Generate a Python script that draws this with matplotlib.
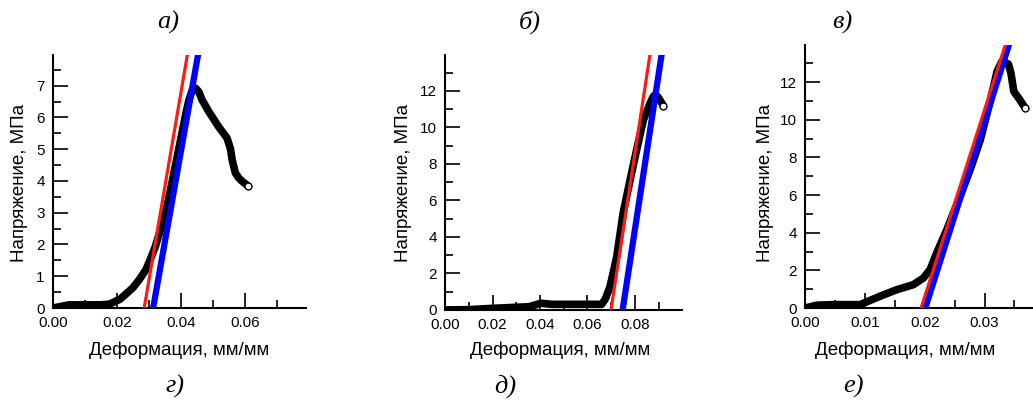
import matplotlib.pyplot as plt
from matplotlib.ticker import MultipleLocator

plt.rcParams['font.family'] = ['Liberation Sans', 'DejaVu Sans']

# panel a
A_STRAIN = [0.0, 0.005, 0.010, 0.015, 0.0176, 0.0210, 0.0249, 0.0270, 0.0290, 0.0305,
            0.0320, 0.0352, 0.0373, 0.0399, 0.0415, 0.0425, 0.0435, 0.0446, 0.0456,
            0.0466, 0.0487, 0.0518, 0.0544, 0.0555, 0.0560, 0.0570, 0.0580, 0.0590, 0.0611]
A_STRESS = [0.0, 0.10, 0.10, 0.10, 0.12, 0.28, 0.63, 0.90, 1.20, 1.55,
            1.94, 3.00, 4.00, 5.30, 6.10, 6.55, 6.85, 6.92, 6.80,
            6.55, 6.18, 5.70, 5.35, 5.00, 4.66, 4.25, 4.10, 4.00, 3.83]
A_RED = ([0.0285, 0.0420], [0.0, 7.97])
A_BLUE = ([0.0313, 0.0453], [0.0, 7.95])

# panel b
B_STRAIN = [0.0, 0.010, 0.020, 0.0354, 0.0404, 0.0450, 0.0550, 0.0660, 0.0675, 0.0695,
            0.0723, 0.0750, 0.0779, 0.0807, 0.0835, 0.0863, 0.0875, 0.0884, 0.0895,
            0.0905, 0.0919]
B_STRESS = [0.0, 0.02, 0.09, 0.18, 0.37, 0.31, 0.31, 0.31, 0.60, 1.28,
            2.90, 5.30, 7.10, 8.77, 10.40, 11.30, 11.65, 11.78, 11.70,
            11.50, 11.20]
B_RED = ([0.0699, 0.0863], [0.0, 13.97])
B_BLUE = ([0.0748, 0.0912], [0.0, 13.97])

# panel c
C_STRAIN = [0.0, 0.002, 0.005, 0.0092, 0.0125, 0.0153, 0.0181, 0.0198, 0.0209, 0.0220,
            0.0237, 0.0259, 0.0276, 0.0293, 0.0310, 0.0321, 0.0329, 0.0334, 0.0340,
            0.0344, 0.0346, 0.0349, 0.0357, 0.0368]
C_STRESS = [0.0, 0.15, 0.18, 0.18, 0.62, 0.97, 1.24, 1.60, 2.04, 2.92,
            4.16, 5.93, 7.35, 8.94, 11.06, 12.57, 13.10, 13.05, 12.95,
            12.50, 12.10, 11.50, 11.15, 10.62]
C_RED = ([0.0194, 0.0335], [0.0, 14.0])
C_BLUE = ([0.0201, 0.0340], [0.0, 13.9])

TOP_LETTERS = ['а)', 'б)', 'в)']
BOTTOM_LETTERS = ['г)', 'д)', 'е)']

panels = [
    dict(pos=[0.0513, 0.2357, 0.2450, 0.6275], x=A_STRAIN, y=A_STRESS, red=A_RED, blue=A_BLUE,
         xlim=0.0791, ylim=7.96, xmaj=0.02, xmin=0.01, ymaj=1, ymin=0.5, yl_x=20, xl_x=179),
    dict(pos=[0.4308, 0.2308, 0.2294, 0.6327], x=B_STRAIN, y=B_STRESS, red=B_RED, blue=B_BLUE,
         xlim=0.0998, ylim=13.97, xmaj=0.02, xmin=0.01, ymaj=2, ymin=1, yl_x=403, xl_x=560),
    dict(pos=[0.7793, 0.2357, 0.2207, 0.6526], x=C_STRAIN, y=C_STRESS, red=C_RED, blue=C_BLUE,
         xlim=0.0381, ylim=13.97, xmaj=0.01, xmin=0.005, ymaj=2, ymin=1, yl_x=765, xl_x=905),
]

W, H = 1033, 403
fig = plt.figure(figsize=(W / 100, H / 100), dpi=100)

for p in panels:
    ax = fig.add_axes(p['pos'])
    ax.plot(p['x'], p['y'], color='black', lw=5.5, solid_capstyle='round',
            solid_joinstyle='round', zorder=2)
    ax.plot(p['x'][-1], p['y'][-1], 'o', ms=5, mfc='white', mec='black', mew=1, zorder=3)
    ax.plot(*p['blue'], color='#0000ff', lw=4.5, zorder=4)
    ax.plot(*p['red'], color='#ff1a1a', lw=2.3, zorder=5)
    ax.set_xlim(0, p['xlim'])
    ax.set_ylim(0, p['ylim'])
    for s in ['top', 'right']:
        ax.spines[s].set_visible(False)
    for s in ['left', 'bottom']:
        ax.spines[s].set_linewidth(1.5)
    ax.xaxis.set_major_locator(MultipleLocator(p['xmaj']))
    ax.xaxis.set_minor_locator(MultipleLocator(p['xmin']))
    ax.yaxis.set_major_locator(MultipleLocator(p['ymaj']))
    ax.yaxis.set_minor_locator(MultipleLocator(p['ymin']))
    ax.xaxis.set_major_formatter(lambda v, pos: f'{v:.2f}')
    ax.yaxis.set_major_formatter(lambda v, pos: f'{v:g}')
    ax.tick_params(which='major', direction='in', length=11, width=1.2, labelsize=11, pad=6)
    ax.tick_params(which='minor', direction='in', length=6, width=1.2)
    fig.text(p['yl_x'] / W, 1 - 183 / H, 'Напряжение, МПа', rotation=90,
             ha='center', va='center', fontsize=13.5)
    fig.text(p['xl_x'] / W, 1 - 350 / H, 'Деформация, мм/мм',
             ha='center', va='center', fontsize=13.5)

for lab, xc in zip(TOP_LETTERS, [168, 530, 842]):
    fig.text(xc / W, 1 - 22 / H, lab, ha='center', va='center', fontsize=19,
             family='Liberation Serif', style='italic')
for lab, xc in zip(BOTTOM_LETTERS, [175, 505, 853]):
    fig.text(xc / W, 1 - 386 / H, lab, ha='center', va='center', fontsize=19,
             family='Liberation Serif', style='italic')

fig.savefig('out.png', dpi=100)
